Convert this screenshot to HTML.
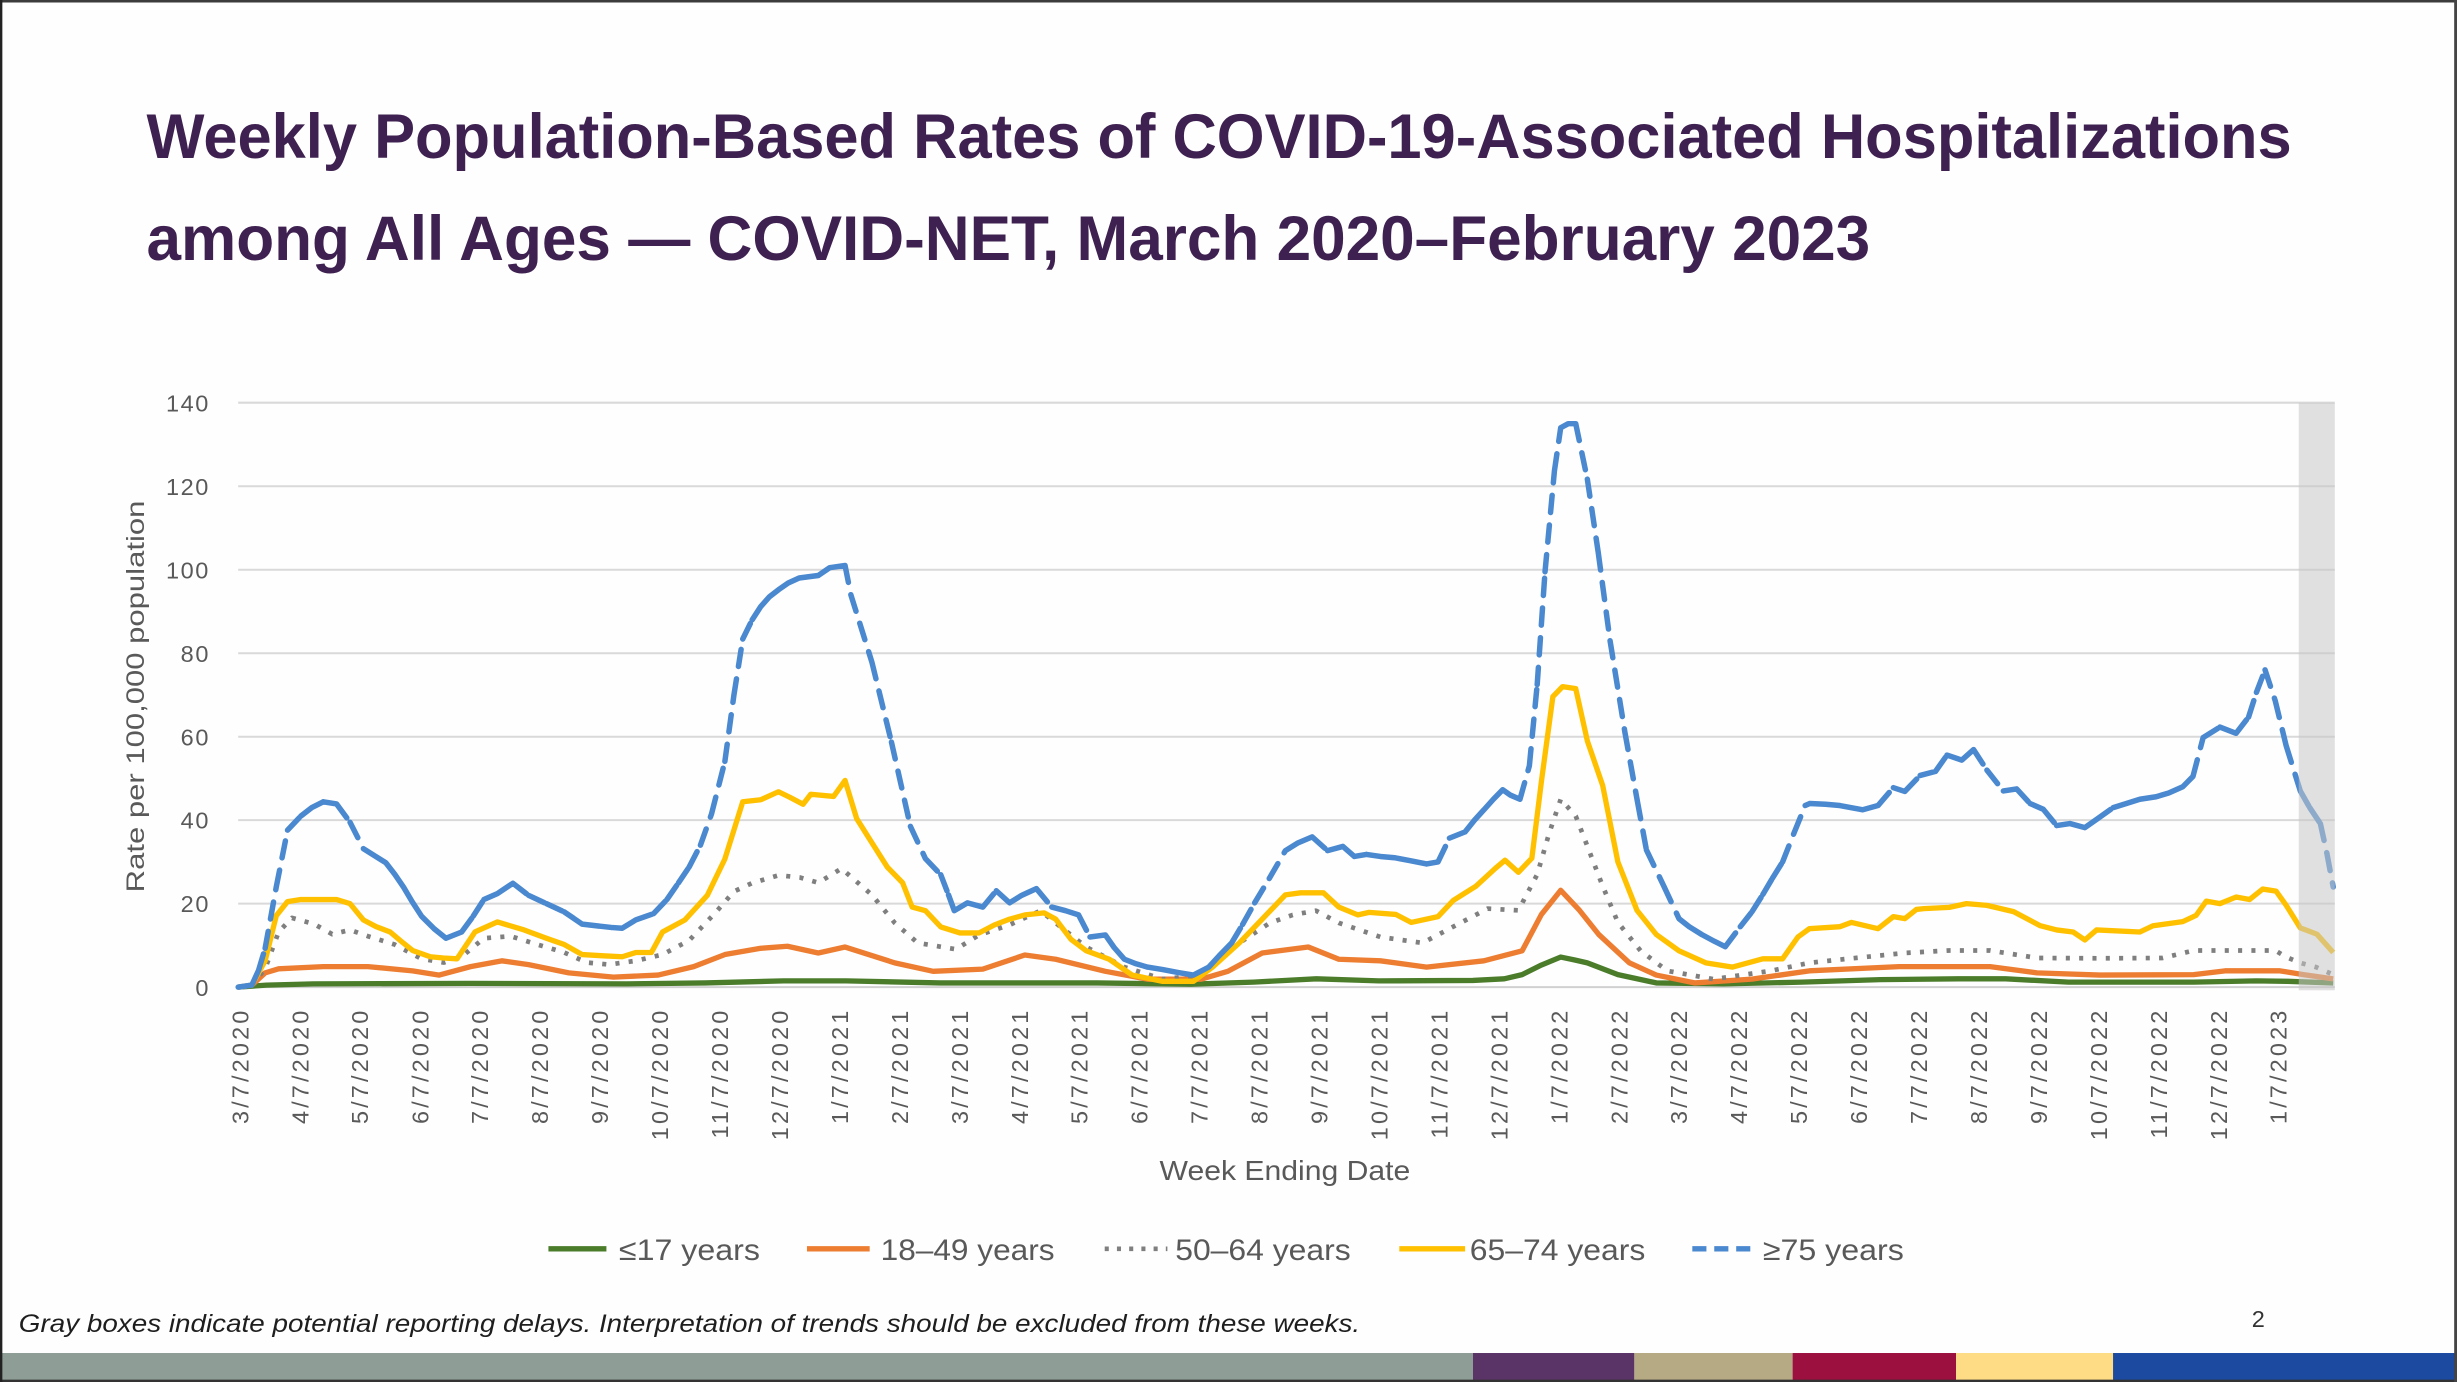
<!DOCTYPE html>
<html>
<head>
<meta charset="utf-8">
<style>
html,body{margin:0;padding:0;background:#fefefe;}
svg{display:block;}
text{font-family:"Liberation Sans",sans-serif;}
</style>
</head>
<body>
<svg xmlns="http://www.w3.org/2000/svg" width="2457" height="1382" viewBox="0 0 1568 882" preserveAspectRatio="none">
<rect x="0" y="0" width="1568" height="882" fill="#fefefe"/>

<!-- Title -->
<text x="93.5" y="101" font-size="40" font-weight="bold" fill="#3e2150" textLength="1369" lengthAdjust="spacingAndGlyphs">Weekly Population-Based Rates of COVID-19-Associated Hospitalizations</text>
<text x="93.5" y="166" font-size="40" font-weight="bold" fill="#3e2150" textLength="1100" lengthAdjust="spacingAndGlyphs">among All Ages — COVID-NET, March 2020–February 2023</text>

<!-- Gridlines -->
<g stroke="#d9d9d9" stroke-width="1.3">
<line x1="152" y1="257" x2="1490" y2="257"/>
<line x1="152" y1="310.3" x2="1490" y2="310.3"/>
<line x1="152" y1="363.6" x2="1490" y2="363.6"/>
<line x1="152" y1="416.9" x2="1490" y2="416.9"/>
<line x1="152" y1="470.2" x2="1490" y2="470.2"/>
<line x1="152" y1="523.4" x2="1490" y2="523.4"/>
<line x1="152" y1="576.7" x2="1490" y2="576.7"/>
<line x1="152" y1="630" x2="1490" y2="630" stroke="#d0d0d0"/>
</g>

<!-- Y tick labels -->
<g font-size="15" fill="#595959" text-anchor="end" letter-spacing="1">
<text x="134" y="262.5">140</text>
<text x="134" y="315.8">120</text>
<text x="134" y="369.1">100</text>
<text x="134" y="422.4">80</text>
<text x="134" y="475.7">60</text>
<text x="134" y="528.9">40</text>
<text x="134" y="582.2">20</text>
<text x="134" y="635.5">0</text>
</g>

<!-- Y axis title -->
<text transform="translate(92,444.5) rotate(-90)" text-anchor="middle" font-size="16" fill="#595959" textLength="250" lengthAdjust="spacingAndGlyphs">Rate per 100,000 population</text>

<!-- Series: <=17 -->
<polyline fill="none" stroke="#4a7c2a" stroke-width="3.4" stroke-linejoin="round" points="152,630 170,628.7 200,627.9 300,627.6 400,627.9 450,627.3 500,626 540,626 600,627.3 700,627.3 760,628.1 800,626.8 840,624.7 880,626 940,625.7 960,624.7 971.4,622 983.7,615.9 996,610.8 1005,612.7 1013,614.5 1032.5,622 1057,627.3 1100,627.9 1150,626.8 1200,625.2 1250,624.7 1280,624.7 1320,626.8 1400,626.8 1440,626 1460,626.3 1489,627.3"/>

<!-- Series: 18-49 -->
<polyline fill="none" stroke="#ed7d31" stroke-width="3.4" stroke-linejoin="round" points="152,630 160.7,628.7 169.2,620.9 177.8,618.3 206.3,616.9 234.8,616.9 263.3,619.6 280.3,622.3 300.3,616.9 320.2,613.2 337.3,615.6 363,620.9 391.5,623.6 420,622.3 442.7,616.9 462.6,609.2 485.5,605.2 502.5,603.9 522.2,608.2 539.3,604.4 571,614.5 595.5,619.9 627.2,618.5 654,609.5 673.7,612.2 705.4,619.9 732.3,624.9 766.5,624.9 783.6,619.9 805.5,608.2 834.9,604.4 854.4,612.2 880.9,613.2 910.4,617.2 947,613.2 971.4,606.8 983.7,583.6 996,568.2 1008,581 1020.3,596.4 1039.8,614.5 1057,622.3 1081.4,627.3 1118,624.9 1154.7,619.6 1212,616.9 1270,616.9 1300,620.9 1340,622.3 1400,622 1420,619.6 1455,619.6 1470,622 1489,624.7"/>

<!-- Series: 50-64 dotted -->
<polyline fill="none" stroke="#7f7f7f" stroke-width="3" stroke-dasharray="2.6 5.9" stroke-linejoin="round" points="152,630 160.7,628.7 169.2,618.3 177.8,594.8 186.3,585.8 200.6,589.8 212,596.2 223.4,593.5 234.8,597.5 251.9,602.8 269,611.9 283.3,614.3 294.6,610.6 308.8,598.8 325.9,597.5 343,602.8 360.1,607.9 374.4,614.3 388.6,615.6 405.7,613.2 422.8,609.2 439.8,600.2 457,582 468.3,569 479.7,563.7 496.8,558.6 510.5,560 522.2,563.4 537,554.3 556.4,571.1 571,589 585.7,601.8 610,605.8 624.8,596.7 644.3,590.3 664,581.2 673.7,589 693.2,604.4 717.6,617.2 742,624.9 766.5,622.3 790.9,601.8 810.4,589 825,583.9 839.8,581.2 854.4,589 861.5,591.4 881,598 907.8,601.8 925,592.7 949.4,579.9 969,581 981,558.1 988.5,532.2 996,510.1 1005.6,520.8 1013,540 1022.8,565.5 1032.5,588.7 1047,606.8 1064,619.6 1093.4,624.9 1130,619.6 1154.7,614.5 1179,611.9 1215.6,608.2 1244,606.6 1270,606.6 1300,611.4 1340,611.6 1380,611.4 1400,606.6 1440,606.6 1452,606.6 1459,610.8 1468,614.5 1478,617.2 1489,622"/>

<!-- Series: 65-74 -->
<polyline fill="none" stroke="#ffc000" stroke-width="3.4" stroke-linejoin="round" points="152,630 160.7,628.7 169.2,613.2 176.3,584.4 183.5,575.4 192,574.1 200.6,574.1 214.8,574.1 223.4,576.7 231.9,587.1 240,591.4 249,594.8 256,600.7 263.3,606.6 274.6,610.6 283,611.4 291.7,611.9 303.1,594.8 317.4,588.4 334.5,593.5 348.7,598.8 360.1,602.8 371.5,609.2 385,610 397.1,610.6 405.7,607.9 415.7,607.9 422.8,594.8 437.1,587.1 451.4,571.4 462.6,548.2 474,511.7 485.5,510.4 496.8,505.3 504,508.8 512.5,513.3 517.4,506.9 532,508.3 539.3,498.1 546.7,522.4 556.4,537.8 566.2,553.3 576,563.4 582.1,578.9 590.6,581.2 600.4,591.6 612.6,595.4 624.8,595.4 634.6,590.3 644.3,586.6 654.1,583.9 666.3,582.6 673.7,586.6 683.4,599.4 693.2,606.8 707.9,612.2 722.5,622.3 742,626.3 761.6,626.3 773.8,617.2 790.9,601.8 805.5,586.6 820.3,571.1 830,569.8 844.6,569.8 854.4,578.9 866.6,583.9 873.7,582.3 890.8,583.6 900.6,588.7 917.7,585 927.5,574.6 942,565.5 954.4,554.1 960.5,549 969,556.7 977.6,547.7 983.7,498.7 991,444.6 997.2,438.2 1005.6,439.5 1013,472.8 1022.8,501.3 1032.5,550.1 1044.7,581 1057,596.4 1071.5,606.8 1088.6,614.5 1105.7,617.2 1125,611.9 1137.6,611.9 1147.4,598 1154.7,592.7 1174.3,591.4 1181.6,588.7 1198.5,592.7 1208.3,585 1215.6,586.3 1223,580.4 1227.8,579.9 1244,579.1 1255,576.7 1268,577.8 1285,581.8 1302,590.8 1312.5,593.5 1323,594.8 1330.5,599.9 1338,593.5 1365.6,594.8 1374,590.8 1393,588.2 1401.5,584.2 1408,575.1 1416.7,576.7 1427,572.5 1435.6,574.1 1444,567.4 1452.5,568.7 1459,577.8 1468,592.2 1478.6,596.2 1489,607.9"/>

<!-- Series: >=75 dashed (each segment its own subpath so dash restarts) -->
<path fill="none" stroke="#4a88cf" stroke-width="3.5" stroke-linecap="round" stroke-dasharray="11 8" d="M152,630L160.7,628.7M160.7,628.7L165,619.3M165,619.3L169.2,605.2M169.2,605.2L176.3,566.1M176.3,566.1L183.5,529.8M183.5,529.8L192,520.8M192,520.8L199,515.4M199,515.4L206.3,511.7M206.3,511.7L214.8,513.1M214.8,513.1L223.4,524.8M223.4,524.8L231.9,541.6M231.9,541.6L239,546.1M239,546.1L246.2,550.6M246.2,550.6L252,558.1M252,558.1L257.6,566.3M257.6,566.3L263,575.4M263,575.4L269,584.7M269,584.7L277,592.7M277,592.7L284.6,598.8M284.6,598.8L294.6,594.8M294.6,594.8L302,584.7M302,584.7L308.8,574.1M308.8,574.1L317.4,570.3M317.4,570.3L327.3,563.7M327.3,563.7L337.3,571.4M337.3,571.4L348.7,576.7M348.7,576.7L360.1,582M360.1,582L366,586M366,586L371.5,589.8M371.5,589.8L382.9,591.1M382.9,591.1L390,591.9M390,591.9L397.1,592.4M397.1,592.4L405.7,587.1M405.7,587.1L417.1,583.1M417.1,583.1L425.6,574.1M425.6,574.1L433,563.4M433,563.4L439.8,553.3M439.8,553.3L447,539.4M447,539.4L454.1,519.4M454.1,519.4L462.6,485.9M462.6,485.9L468.3,444.1M468.3,444.1L474,407.8M474,407.8L480,395.6M480,395.6L485.5,387.1M485.5,387.1L491,380.9M491,380.9L496.8,376.4M496.8,376.4L503,372.1M503,372.1L510,368.9M510,368.9L516,368.1M516,368.1L522.2,367.3M522.2,367.3L529.5,362.3M529.5,362.3L539.3,360.9M539.3,360.9L543,379.6M543,379.6L556.4,422.5M556.4,422.5L568.9,473.6M568.9,473.6L581,527.4M581,527.4L590.6,548M590.6,548L600.4,558.3M600.4,558.3L605.3,571.1M605.3,571.1L609,581.2M609,581.2L617.4,576.2M617.4,576.2L627.2,578.9M627.2,578.9L635.8,568.5M635.8,568.5L644.3,576.2M644.3,576.2L652,571.4M652,571.4L661.4,567.1M661.4,567.1L671.2,578.9M671.2,578.9L680,581.2M680,581.2L688.3,583.9M688.3,583.9L695.6,598M695.6,598L705.4,596.7M705.4,596.7L711,604.7M711,604.7L717.6,612.2M717.6,612.2L725,615.1M725,615.1L732.3,617.2M732.3,617.2L742,618.8M742,618.8L752,620.7M752,620.7L761.6,622.3M761.6,622.3L771.4,617.2M771.4,617.2L778,610M778,610L786,601.8M786,601.8L793,590M793,590L800.7,576.2M800.7,576.2L810,560.7M810,560.7L820.3,542.9M820.3,542.9L828,538.1M828,538.1L837.4,534.1M837.4,534.1L847.2,542.9M847.2,542.9L857,540.2M857,540.2L864.3,546.6M864.3,546.6L872,545.3M872,545.3L880.9,546.6M880.9,546.6L890,547.4M890,547.4L900,549.3M900,549.3L910.4,551.4M910.4,551.4L917.7,550.1M917.7,550.1L925,534.9M925,534.9L935,530.9M935,530.9L941,523.4M941,523.4L947,516.8M947,516.8L953,510.1M953,510.1L959,504M959,504L964,507.5M964,507.5L970,510.1M970,510.1L976,488.8M976,488.8L981,436.9M981,436.9L986,364.9M986,364.9L992,300.5M992,300.5L996,273M996,273L1000.8,270.4M1000.8,270.4L1005.6,270.4M1005.6,270.4L1013,305.8M1013,305.8L1020,352.9M1020,352.9L1027.5,408.9M1027.5,408.9L1037,467.5M1037,467.5L1045,511.7M1045,511.7L1050.7,542.4M1050.7,542.4L1061.8,565.5M1061.8,565.5L1071.5,586.3M1071.5,586.3L1078,591.4M1078,591.4L1086,596.4M1086,596.4L1094,600.7M1094,600.7L1101,604.2M1101,604.2L1110.6,591.4M1110.6,591.4L1118,582M1118,582L1125,570.9M1125,570.9L1131,560.7M1131,560.7L1137.6,550.1M1137.6,550.1L1145,531.4M1145,531.4L1152,514.1M1152,514.1L1155,512.8M1155,512.8L1165,513.3M1165,513.3L1174.1,514.1M1174.1,514.1L1181,515.4M1181,515.4L1188.8,516.8M1188.8,516.8L1198.5,514.1M1198.5,514.1L1208.3,502.7M1208.3,502.7L1215.6,505.1M1215.6,505.1L1225.4,494.9M1225.4,494.9L1235.2,492.3M1235.2,492.3L1242.5,481.9M1242.5,481.9L1252,485.1M1252,485.1L1259.5,478.4M1259.5,478.4L1268,491.5M1268,491.5L1278.5,504.8M1278.5,504.8L1287,503.5M1287,503.5L1295.5,512.8M1295.5,512.8L1304,516.5M1304,516.5L1312.5,526.9M1312.5,526.9L1321,525.6M1321,525.6L1330.5,528.2M1330.5,528.2L1338,522.9M1338,522.9L1348.6,515.4M1348.6,515.4L1357,512.8M1357,512.8L1365.6,510.1M1365.6,510.1L1376,508.5M1376,508.5L1384,506.1M1384,506.1L1393,502.1M1393,502.1L1399.5,495.5M1399.5,495.5L1406,470.7M1406,470.7L1416.7,464M1416.7,464L1427,468M1427,468L1435,457.6M1435,457.6L1440,441.9M1440,441.9L1445.5,427.5M1445.5,427.5L1452,447.2M1452,447.2L1459,476M1459,476L1468,504.8M1468,504.8L1474,515.4M1474,515.4L1480.8,525.6M1480.8,525.6L1485,544.8M1485,544.8L1489,566.1"/>

<!-- Gray reporting-delay box -->
<rect x="1467" y="257" width="23" height="375" fill="#c6c6c6" fill-opacity="0.55"/>

<!-- X tick labels -->
<g font-size="15" fill="#595959" text-anchor="end" letter-spacing="2">
<text transform="translate(158.5,643) rotate(-90)">3/7/2020</text>
<text transform="translate(196.8,643) rotate(-90)">4/7/2020</text>
<text transform="translate(235,643) rotate(-90)">5/7/2020</text>
<text transform="translate(273.3,643) rotate(-90)">6/7/2020</text>
<text transform="translate(311.5,643) rotate(-90)">7/7/2020</text>
<text transform="translate(349.8,643) rotate(-90)">8/7/2020</text>
<text transform="translate(388.1,643) rotate(-90)">9/7/2020</text>
<text transform="translate(426.3,643) rotate(-90)">10/7/2020</text>
<text transform="translate(464.6,643) rotate(-90)">11/7/2020</text>
<text transform="translate(502.8,643) rotate(-90)">12/7/2020</text>
<text transform="translate(541.1,643) rotate(-90)">1/7/2021</text>
<text transform="translate(579.4,643) rotate(-90)">2/7/2021</text>
<text transform="translate(617.6,643) rotate(-90)">3/7/2021</text>
<text transform="translate(655.9,643) rotate(-90)">4/7/2021</text>
<text transform="translate(694.1,643) rotate(-90)">5/7/2021</text>
<text transform="translate(732.4,643) rotate(-90)">6/7/2021</text>
<text transform="translate(770.7,643) rotate(-90)">7/7/2021</text>
<text transform="translate(808.9,643) rotate(-90)">8/7/2021</text>
<text transform="translate(847.2,643) rotate(-90)">9/7/2021</text>
<text transform="translate(885.4,643) rotate(-90)">10/7/2021</text>
<text transform="translate(923.7,643) rotate(-90)">11/7/2021</text>
<text transform="translate(962,643) rotate(-90)">12/7/2021</text>
<text transform="translate(1000.2,643) rotate(-90)">1/7/2022</text>
<text transform="translate(1038.5,643) rotate(-90)">2/7/2022</text>
<text transform="translate(1076.7,643) rotate(-90)">3/7/2022</text>
<text transform="translate(1115,643) rotate(-90)">4/7/2022</text>
<text transform="translate(1153.3,643) rotate(-90)">5/7/2022</text>
<text transform="translate(1191.5,643) rotate(-90)">6/7/2022</text>
<text transform="translate(1229.8,643) rotate(-90)">7/7/2022</text>
<text transform="translate(1268,643) rotate(-90)">8/7/2022</text>
<text transform="translate(1306.3,643) rotate(-90)">9/7/2022</text>
<text transform="translate(1344.6,643) rotate(-90)">10/7/2022</text>
<text transform="translate(1382.8,643) rotate(-90)">11/7/2022</text>
<text transform="translate(1421.1,643) rotate(-90)">12/7/2022</text>
<text transform="translate(1459.3,643) rotate(-90)">1/7/2023</text>
</g>

<!-- X axis title -->
<text x="740" y="753" font-size="18" fill="#595959" textLength="160" lengthAdjust="spacingAndGlyphs">Week Ending Date</text>

<!-- Legend -->
<g font-size="19" fill="#595959">
<line x1="350" y1="797" x2="387" y2="797" stroke="#4a7c2a" stroke-width="3.4"/>
<text x="395" y="804" textLength="90" lengthAdjust="spacingAndGlyphs">≤17 years</text>
<line x1="515" y1="797" x2="555" y2="797" stroke="#ed7d31" stroke-width="3.4"/>
<text x="562" y="804" textLength="111" lengthAdjust="spacingAndGlyphs">18–49 years</text>
<line x1="705" y1="797" x2="745" y2="797" stroke="#7f7f7f" stroke-width="3" stroke-dasharray="2.6 5.2"/>
<text x="750" y="804" textLength="112" lengthAdjust="spacingAndGlyphs">50–64 years</text>
<line x1="893" y1="797" x2="935" y2="797" stroke="#ffc000" stroke-width="3.4"/>
<text x="938" y="804" textLength="112" lengthAdjust="spacingAndGlyphs">65–74 years</text>
<line x1="1080" y1="797" x2="1118" y2="797" stroke="#4a88cf" stroke-width="3.5" stroke-dasharray="9 5"/>
<text x="1125" y="804" textLength="90" lengthAdjust="spacingAndGlyphs">≥75 years</text>
</g>

<!-- Footnote -->
<text x="12" y="850" font-size="16" font-style="italic" fill="#1e1e1e" textLength="856" lengthAdjust="spacingAndGlyphs">Gray boxes indicate potential reporting delays. Interpretation of trends should be excluded from these weeks.</text>
<text x="1437" y="847" font-size="15" fill="#333333">2</text>

<!-- Bottom color bar -->
<rect x="0" y="863.5" width="940" height="17.5" fill="#8e9d96"/>
<rect x="940" y="863.5" width="103" height="17.5" fill="#5b3467"/>
<rect x="1043" y="863.5" width="101" height="17.5" fill="#b5aa84"/>
<rect x="1144" y="863.5" width="104.3" height="17.5" fill="#9c1040"/>
<rect x="1248.3" y="863.5" width="100.2" height="17.5" fill="#fddc85"/>
<rect x="1348.5" y="863.5" width="219.5" height="17.5" fill="#1c4aa0"/>

<!-- Frame borders -->
<rect x="0" y="0" width="1568" height="1.6" fill="#3c3c3c"/>
<rect x="0" y="880.5" width="1568" height="1.5" fill="#333333"/>
<rect x="0" y="0" width="1.5" height="882" fill="#222222"/>
<rect x="1566.2" y="0" width="1.8" height="882" fill="#444444"/>
</svg>
</body>
</html>
